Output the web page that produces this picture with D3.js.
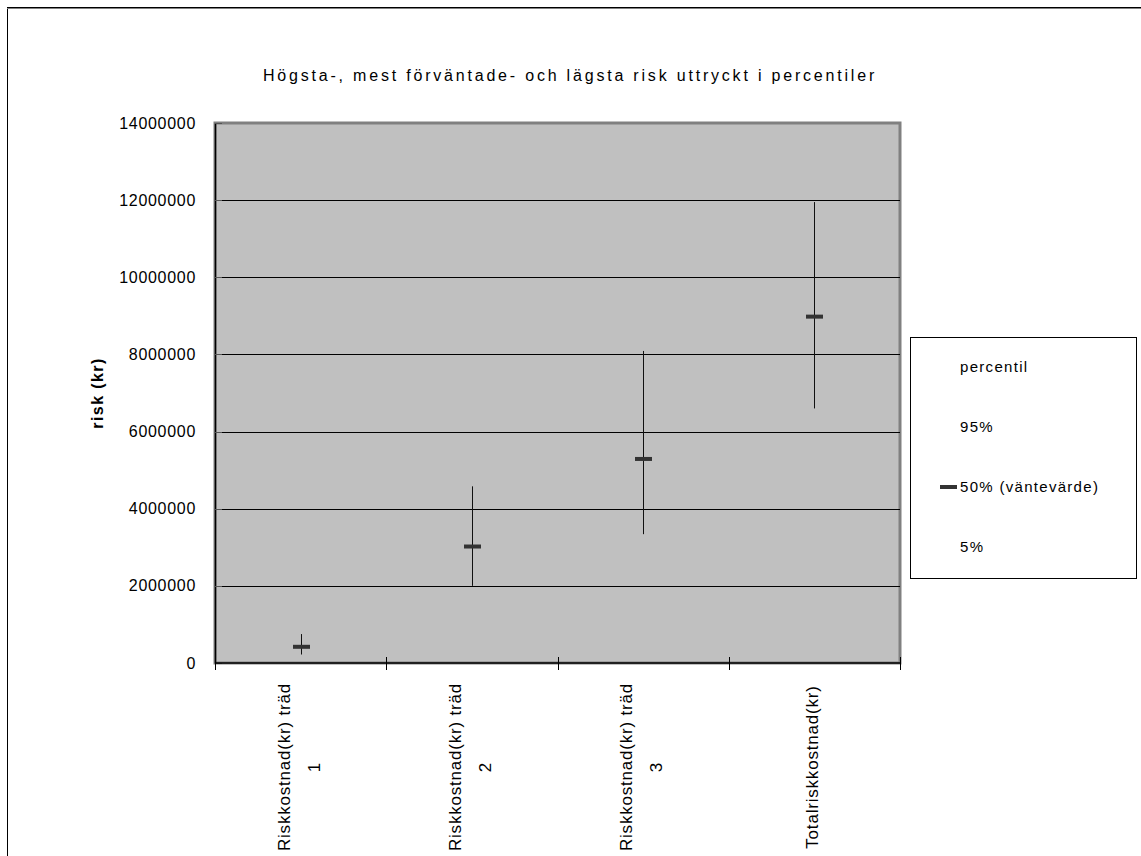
<!DOCTYPE html>
<html>
<head>
<meta charset="utf-8">
<script src="https://cdn.jsdelivr.net/npm/d3@7"></script>
<style>
  html, body { margin: 0; padding: 0; background: #fff; }
  svg { display: block; font-family: "Liberation Sans", Arial, sans-serif; }
</style>
</head>
<body>
<svg id="chart" width="1141" height="856"></svg>
<script>
// ---- data ----
const categories = [
  ["Riskkostnad(kr) träd", "1"],
  ["Riskkostnad(kr) träd", "2"],
  ["Riskkostnad(kr) träd", "3"],
  ["Totalriskkostnad(kr)"]
];
const p95 = [750000, 4580000, 8090000, 11950000];
const p50 = [420000, 3020000, 5290000, 8980000];
const p5  = [220000, 2000000, 3340000, 6600000];
const yTicks = [0, 2000000, 4000000, 6000000, 8000000, 10000000, 12000000, 14000000];
const legendItems = ["percentil", "95%", "50% (väntevärde)", "5%"];
const titleText = "Högsta-, mest förväntade- och lägsta risk uttryckt i percentiler";
const yTitle = "risk (kr)";

// ---- layout ----
const svg = d3.select("#chart");
const plot = { left: 215, top: 123, right: 900, bottom: 663 };

// outer chart border
svg.append("rect").attr("x", 7.5).attr("y", 7.5).attr("width", 1300).attr("height", 1000)
  .attr("fill", "none").attr("stroke", "#000").attr("stroke-width", 1);
svg.append("line").attr("x1", 7).attr("x2", 1141).attr("y1", 8.5).attr("y2", 8.5)
  .attr("stroke", "#808080").attr("stroke-width", 1);

const x = d3.scaleBand().domain(d3.range(categories.length))
  .range([plot.left, plot.right]).paddingInner(0).paddingOuter(0);
const y = d3.scaleLinear().domain([0, 14000000]).range([plot.bottom, plot.top]);

// plot area
svg.append("rect").attr("x", plot.left).attr("y", plot.top)
  .attr("width", plot.right - plot.left).attr("height", plot.bottom - plot.top)
  .attr("fill", "#c0c0c0").attr("stroke", "#808080").attr("stroke-width", 3);

// gridlines
svg.append("g").selectAll("line").data(yTicks.filter(d => d > 0 && d < 14000000)).join("line")
  .attr("x1", plot.left).attr("x2", plot.right)
  .attr("y1", d => Math.round(y(d)) + 0.5).attr("y2", d => Math.round(y(d)) + 0.5)
  .attr("stroke", "#000").attr("stroke-width", 1);

// y axis
const yAxis = svg.append("g").attr("transform", `translate(${plot.left},0)`)
  .call(d3.axisLeft(y).tickValues(yTicks).tickFormat(d3.format("d")).tickSize(0).tickPadding(19));
yAxis.select(".domain").attr("stroke", "#000").attr("stroke-width", 1.5);
yAxis.selectAll("text").attr("font-size", 16).attr("fill", "#000")
  .attr("letter-spacing", 0.7).attr("font-family", "Liberation Sans, Arial, sans-serif");
// inner tick marks
svg.append("g").selectAll("line").data(yTicks).join("line")
  .attr("x1", plot.left).attr("x2", plot.left + 7)
  .attr("y1", d => Math.round(y(d)) + 0.5).attr("y2", d => Math.round(y(d)) + 0.5)
  .attr("stroke", "#555").attr("stroke-width", 1);

// x axis
const xAxisG = svg.append("g").attr("transform", `translate(0,${plot.bottom})`);
xAxisG.append("line").attr("x1", plot.left).attr("x2", plot.right).attr("y1", 0).attr("y2", 0)
  .attr("stroke", "#000").attr("stroke-width", 1.5);
const bounds = d3.range(categories.length + 1).map(i => i < categories.length ? x(i) : x(categories.length - 1) + x.bandwidth());
xAxisG.selectAll("line.tick").data(bounds).join("line").attr("class", "tick")
  .attr("x1", d => Math.round(d) + 0.5).attr("x2", d => Math.round(d) + 0.5)
  .attr("y1", -6).attr("y2", 7).attr("stroke", "#000").attr("stroke-width", 1);

// x labels (rotated, multi-line, centred)
const labelCenterY = 767;
const lineGap = 30;
categories.forEach((lines, i) => {
  const cx = x(i) + x.bandwidth() / 2;
  const n = lines.length;
  lines.forEach((t, j) => {
    const off = (j - (n - 1) / 2) * lineGap;
    svg.append("text")
      .attr("transform", `translate(${cx + off + 4},${labelCenterY}) rotate(-90)`)
      .attr("text-anchor", "middle")
      .attr("font-size", 17).attr("letter-spacing", 0.8).attr("fill", "#000")
      .text(t);
  });
});

// whiskers
const g = svg.append("g");
g.selectAll("line.whisk").data(d3.range(categories.length)).join("line").attr("class", "whisk")
  .attr("x1", i => Math.round(x(i) + x.bandwidth() / 2) + 0.5)
  .attr("x2", i => Math.round(x(i) + x.bandwidth() / 2) + 0.5)
  .attr("y1", i => y(p95[i])).attr("y2", i => y(p5[i]))
  .attr("stroke", "#111").attr("stroke-width", 1);
// median markers
g.selectAll("rect.med").data(d3.range(categories.length)).join("rect").attr("class", "med")
  .attr("x", i => Math.round(x(i) + x.bandwidth() / 2) - 8)
  .attr("y", i => y(p50[i]) - 2)
  .attr("width", 17).attr("height", 4)
  .attr("fill", "#333");

// title
svg.append("text").attr("x", 570).attr("y", 81).attr("text-anchor", "middle")
  .attr("font-size", 16).attr("letter-spacing", 2.8).attr("fill", "#000").text(titleText);

// y title
svg.append("text").attr("transform", "translate(103,393) rotate(-90)")
  .attr("text-anchor", "middle").attr("font-size", 16).attr("font-weight", "bold")
  .attr("letter-spacing", 1.4).attr("fill", "#000").text(yTitle);

// legend
const lg = svg.append("g");
lg.append("rect").attr("x", 910.5).attr("y", 337.5).attr("width", 226).attr("height", 241)
  .attr("fill", "#fff").attr("stroke", "#000").attr("stroke-width", 1);
const legY = [367, 427, 487, 547];
lg.selectAll("text").data(legendItems).join("text")
  .attr("x", 960).attr("y", (d, i) => legY[i] + 5)
  .attr("font-size", 15).attr("letter-spacing", 1.3).attr("fill", "#000")
  .text(d => d);
lg.append("rect").attr("x", 940).attr("y", legY[2] - 2).attr("width", 17).attr("height", 4).attr("fill", "#333");
</script>
</body>
</html>
